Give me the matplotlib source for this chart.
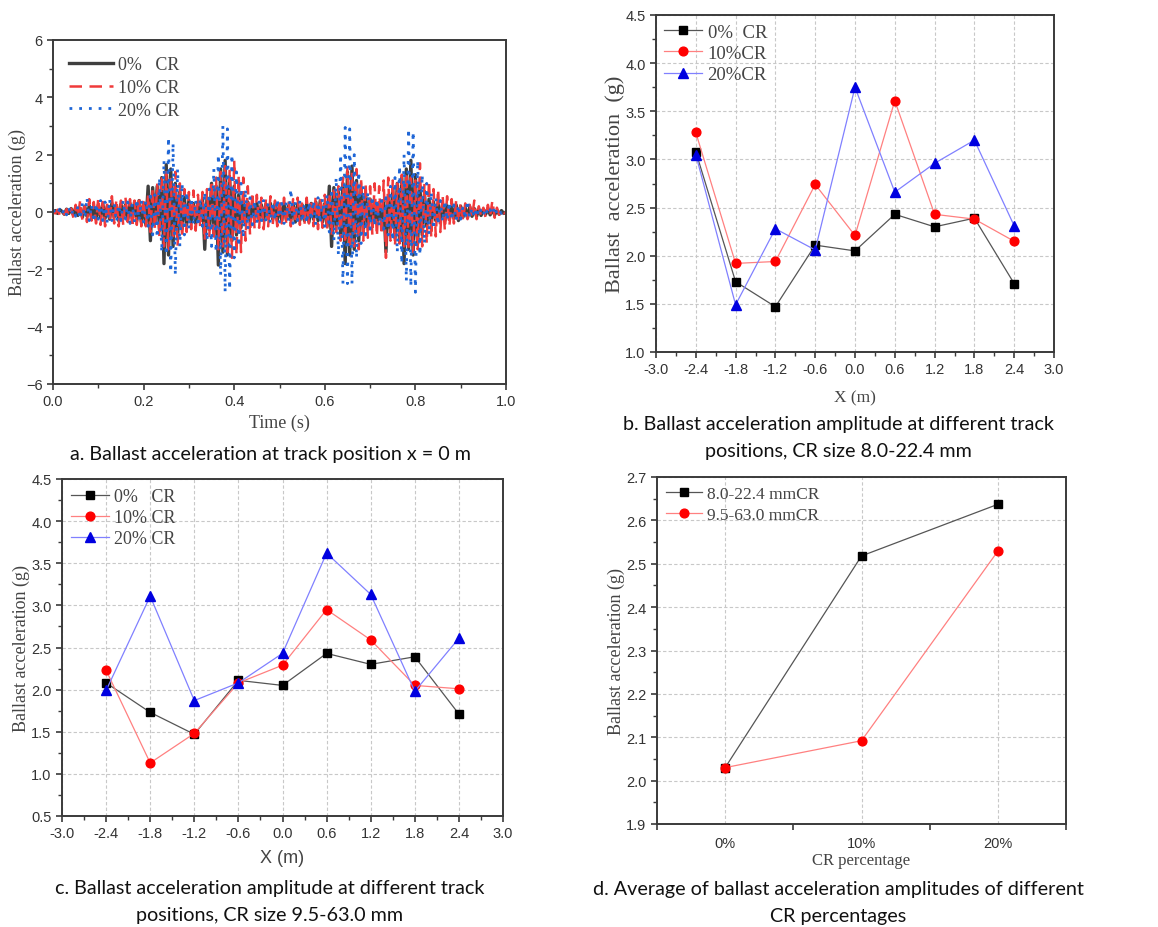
import numpy as np
import matplotlib
matplotlib.use("Agg")
import matplotlib.pyplot as plt
from matplotlib.ticker import MultipleLocator, FixedLocator, FormatStrFormatter, FuncFormatter

# ---------------- data ----------------
# (a) ballast acceleration time history at x = 0 m, sampled every 0.005 s
time_s = np.linspace(0.0, 1.0, 201)
acc_0 = [
    0.00, 0.05, -0.05, 0.08, 0.02, -0.08, 0.10, -0.05, 0.12, -0.10,
    0.15, -0.12, 0.10, -0.18, 0.20, -0.15, 0.22, -0.20, 0.18, -0.25,
    0.25, -0.20, 0.28, -0.22, 0.20, -0.25, 0.30, -0.18, 0.22, -0.30,
    0.28, -0.20, 0.25, -0.28, 0.30, -0.22, 0.35, -0.30, 0.40, -0.35,
    0.30, -0.45, 0.90, -1.00, 0.85, -0.40, 0.90, -0.60, 1.20, -1.80,
    1.65, -1.50, 1.50, -1.20, 1.00, -0.90, 0.70, -0.60, 0.50, -0.45,
    0.40, -0.35, 0.30, -0.40, 0.35, -0.30, 0.45, -1.30, 0.50, -0.60,
    1.00, -0.80, 0.90, -1.85, 1.50, -1.40, 1.80, -1.50, 1.20, -1.00,
    0.90, -0.80, 0.60, -0.55, 0.45, -0.40, 0.35, -0.30, 0.30, -0.25,
    0.30, -0.28, 0.25, -0.30, 0.28, -0.22, 0.30, -0.25, 0.28, -0.30,
    0.25, -0.30, 0.30, -0.25, 0.22, -0.28, 0.30, -0.35, 0.28, -0.30,
    0.25, -0.30, 0.28, -0.35, 0.30, -0.25, 0.35, -0.30, 0.40, -0.35,
    0.30, -0.50, 0.90, -1.20, 0.85, -0.50, 0.70, -0.80, 1.00, -1.80,
    1.40, -1.50, 1.60, -1.30, 1.10, -1.00, 0.80, -0.70, 0.60, -0.50,
    0.45, -0.40, 0.35, -0.40, 0.30, -0.35, 0.40, -1.40, 0.50, -0.60,
    0.80, -0.90, 1.00, -1.00, 1.20, -1.80, 1.50, -1.30, 1.80, -1.50,
    1.30, -1.10, 0.90, -0.80, 0.60, -0.50, 0.45, -0.40, 0.35, -0.30,
    0.30, -0.28, 0.25, -0.30, 0.22, -0.25, 0.20, -0.22, 0.25, -0.30,
    0.20, -0.18, 0.15, -0.20, 0.18, -0.15, 0.12, -0.15, 0.10, -0.12,
    0.10, -0.08, 0.12, -0.10, 0.08, -0.10, 0.06, -0.08, 0.05, -0.05, 0.00,
]
acc_10 = [
    0.00, -0.05, 0.08, -0.10, 0.05, -0.08, 0.10, -0.15, 0.12, -0.20,
    0.25, -0.15, 0.40, -0.30, 0.20, -0.35, 0.45, -0.30, 0.35, -0.40,
    0.50, -0.45, 0.35, -0.50, 0.40, -0.35, 0.55, -0.40, 0.45, -0.50,
    0.40, -0.45, 0.50, -0.35, 0.45, -0.55, 0.40, -0.45, 0.55, -0.50,
    0.45, -0.50, 0.60, -0.70, 0.80, -0.60, 1.00, -0.90, 1.30, -1.20,
    1.40, -1.30, 1.20, -1.00, 1.40, -1.20, 1.00, -0.90, 0.80, -0.70,
    0.70, -0.60, 0.75, -0.65, 0.60, -0.55, 0.70, -1.00, 0.80, -0.90,
    1.10, -1.00, 1.20, -1.30, 1.40, -1.20, 1.60, -1.40, 1.50, -1.60,
    1.80, -1.50, 1.30, -1.40, 1.20, -1.00, 0.90, -0.80, 0.70, -0.60,
    0.60, -0.55, 0.50, -0.60, 0.45, -0.50, 0.55, -0.45, 0.40, -0.50,
    0.45, -0.40, 0.50, -0.45, 0.40, -0.50, 0.45, -0.40, 0.50, -0.45,
    0.40, -0.45, 0.50, -0.40, 0.45, -0.50, 0.55, -0.60, 0.50, -0.55,
    0.60, -0.65, 0.70, -0.80, 0.75, -0.70, 0.90, -1.00, 1.20, -1.10,
    1.60, -1.30, 1.40, -1.20, 1.50, -1.30, 1.20, -1.00, 1.00, -0.90,
    0.90, -0.80, 1.00, -0.85, 0.90, -0.80, 1.10, -1.60, 1.20, -1.00,
    1.10, -1.20, 1.00, -1.10, 1.30, -1.20, 1.40, -1.30, 1.20, -1.40,
    1.10, -1.30, 1.70, -1.20, 1.00, -1.10, 1.10, -0.90, 0.80, -0.85,
    0.80, -0.70, 0.60, -0.65, 0.55, -0.50, 0.45, -0.40, 0.40, -0.35,
    0.35, -0.30, 0.30, -0.25, 0.25, -0.20, 0.40, -0.25, 0.20, -0.15,
    0.15, -0.20, 0.25, -0.15, 0.40, -0.20, 0.15, -0.10, 0.10, -0.05, 0.00,
]
acc_20 = [
    0.00, 0.08, -0.05, 0.10, -0.08, 0.12, -0.10, 0.15, -0.12, 0.10,
    -0.15, 0.20, -0.25, 0.30, -0.20, 0.50, -0.30, 0.25, -0.35, 0.30,
    -0.25, 0.40, -0.30, 0.35, -0.40, 0.45, -0.30, 0.30, -0.35, 0.25,
    -0.30, 0.40, -0.25, 0.35, -0.40, 0.30, -0.35, 0.45, -0.30, 0.40,
    -0.35, 0.40, -0.50, 0.70, -0.80, 0.60, -0.90, 1.20, -1.40, 1.80,
    -1.50, 2.60, -2.10, 2.40, -2.20, 1.50, -1.20, 1.00, -0.80, 0.70,
    -0.60, 0.50, -0.45, 0.40, -0.50, 0.45, -0.50, 0.70, -1.00, 0.80,
    -1.20, 1.50, -1.40, 2.00, -2.20, 3.00, -2.80, 2.90, -2.70, 2.00,
    -1.60, 1.40, -1.20, 1.00, -0.90, 0.80, -0.60, 0.50, -0.45, 0.40,
    -0.40, 0.35, -0.30, 0.40, -0.35, 0.30, -0.40, 0.35, -0.30, 0.45,
    -0.35, 0.30, -0.40, 0.35, -0.30, 0.80, -0.40, 0.35, -0.30, 0.40,
    -0.35, 0.30, -0.40, 0.35, -0.30, 0.40, -0.45, 0.50, -0.40, 0.45,
    -0.50, 0.60, -0.70, 0.80, -1.00, 1.20, -1.50, 2.00, -2.50, 2.95,
    -2.50, 2.90, -2.50, 2.00, -1.60, 1.40, -1.10, 0.90, -0.80, 0.70,
    -0.60, 0.55, -0.50, 0.45, -0.50, 0.40, -0.60, 0.50, -0.80, 0.90,
    -1.00, 1.20, -1.40, 1.60, -1.80, 2.00, -2.40, 2.90, -2.60, 2.80,
    -2.80, 1.80, -1.50, 1.30, -1.10, 1.00, -0.80, 0.70, -0.60, 0.50,
    -0.45, 0.40, -0.35, 0.40, -0.30, 0.35, -0.30, 0.25, -0.30, 0.25,
    -0.25, 0.20, -0.25, 0.40, -0.20, 0.15, -0.20, 0.15, -0.15, 0.10,
    -0.10, 0.15, -0.10, 0.08, -0.10, 0.20, -0.08, 0.05, -0.05, 0.03, 0.00,
]

# (b), (c) amplitude vs. track position
positions = [-2.4, -1.8, -1.2, -0.6, 0.0, 0.6, 1.2, 1.8, 2.4]
b_cr0 = [3.08, 1.73, 1.47, 2.11, 2.05, 2.43, 2.30, 2.39, 1.71]
b_cr10 = [3.28, 1.92, 1.94, 2.74, 2.21, 3.61, 2.43, 2.38, 2.15]
b_cr20 = [3.05, 1.49, 2.28, 2.06, 3.75, 2.66, 2.96, 3.20, 2.31]
c_cr0 = [2.08, 1.73, 1.47, 2.11, 2.05, 2.43, 2.30, 2.39, 1.71]
c_cr10 = [2.23, 1.13, 1.48, 2.08, 2.29, 2.95, 2.59, 2.05, 2.01]
c_cr20 = [1.99, 3.11, 1.87, 2.08, 2.43, 3.62, 3.13, 1.98, 2.61]

# (d) average amplitude vs. CR percentage
cr_labels = ["0%", "10%", "20%"]
avg_fine = [2.03, 2.518, 2.637]
avg_coarse = [2.03, 2.092, 2.529]

# ---------------- styling ----------------
W, H = 1158, 928
fig = plt.figure(figsize=(W / 100, H / 100), dpi=100)

SERIF = "Liberation Serif"
SANS = "Liberation Sans"
CAPTION = "Lato"
AX_COL = "#3a3a3a"
LABEL_COL = "#444444"
GRID = dict(color="#c8c8c8", linestyle=(0, (3, 2)), linewidth=0.8)


def make_axes(left, top, right, bottom):
    return fig.add_axes([left / W, 1 - bottom / H, (right - left) / W, (bottom - top) / H])


def style(ax, grid=True):
    for s in ax.spines.values():
        s.set_color(AX_COL)
        s.set_linewidth(1.4)
    ax.tick_params(which="major", direction="out", length=4.5, width=1.2,
                   color=AX_COL, labelsize=10.5, labelcolor="#333333", pad=3)
    ax.tick_params(which="minor", direction="out", length=3, width=1.0, color=AX_COL)
    for lab in ax.get_xticklabels() + ax.get_yticklabels():
        lab.set_fontfamily(SANS)
    if grid:
        ax.grid(True, which="major", **GRID)
        ax.set_axisbelow(True)


def caption(x, y, text):
    fig.text(x / W, 1 - y / H, text, ha="center", va="center",
             fontsize=14.2, family=CAPTION, color="#111111", linespacing=1.7)


def legend(ax, size, hlen, spacing, pad):
    ax.legend(loc="upper left", frameon=False, prop=dict(family=SERIF, size=size),
              handlelength=hlen, handletextpad=0.3, labelspacing=spacing,
              borderaxespad=pad, labelcolor=LABEL_COL)


# ---------------- (a) ----------------
ax = make_axes(53, 41, 506, 385)
ax.plot(time_s, acc_0, color="#3f3f3f", lw=2.4, label="0%   CR")
ax.plot(time_s, acc_10, color="#f03a3a", lw=1.8, ls=(0, (5, 3)), label="10% CR")
ax.plot(time_s, acc_20, color="#1f66d6", lw=2.0, ls=(0, (1, 2.5)), label="20% CR")
ax.set_xlim(0, 1.0)
ax.set_ylim(-6, 6)
ax.xaxis.set_major_locator(MultipleLocator(0.2))
ax.xaxis.set_minor_locator(MultipleLocator(0.1))
ax.yaxis.set_major_locator(MultipleLocator(2))
ax.yaxis.set_minor_locator(MultipleLocator(1))
ax.xaxis.set_major_formatter(FormatStrFormatter("%.1f"))
style(ax, grid=False)
ax.set_xlabel("Time (s)", family=SERIF, fontsize=13, color=LABEL_COL, labelpad=4)
ax.set_ylabel("Ballast acceleration (g)", family=SERIF, fontsize=13, color=LABEL_COL, labelpad=0)
legend(ax, 13, 2.4, 0.32, 0.5)
caption(270, 455, "a. Ballast acceleration at track position x = 0 m")


def position_panel(ax, s0, s10, s20, ylo, labels):
    ax.plot(positions, s0, color="#555555", lw=0.9, marker="s", ms=5.5,
            mfc="black", mec="black", label=labels[0])
    ax.plot(positions, s10, color="#ff8080", lw=0.9, marker="o", ms=6.3,
            mfc="#ff0000", mec="#ff0000", label=labels[1])
    ax.plot(positions, s20, color="#8080ff", lw=0.9, marker="^", ms=7,
            mfc="#0000e0", mec="#0000e0", label=labels[2])
    ax.set_xlim(-3.0, 3.0)
    ax.set_ylim(ylo, 4.5)
    ax.xaxis.set_major_locator(FixedLocator(np.arange(-3.0, 3.01, 0.6)))
    ax.xaxis.set_minor_locator(FixedLocator(np.arange(-2.7, 2.8, 0.6)))
    ax.yaxis.set_major_locator(MultipleLocator(0.5))
    ax.yaxis.set_minor_locator(MultipleLocator(0.25))
    ax.xaxis.set_major_formatter(FuncFormatter(
        lambda v, p: f"{v:.1f}" if abs(v) > 1e-9 else "0.0"))
    ax.yaxis.set_major_formatter(FormatStrFormatter("%.1f"))
    style(ax)


# ---------------- (b) ----------------
ax = make_axes(656, 16, 1054, 353)
position_panel(ax, b_cr0, b_cr10, b_cr20, 1.0, ["0%  CR", "10%CR", "20%CR"])
ax.set_ylabel("Ballast  acceleration  (g)", family=SERIF, fontsize=16,
              color=LABEL_COL, labelpad=0)
ax.set_xlabel("X (m)", family=SERIF, fontsize=12.5, color=LABEL_COL, labelpad=9)
legend(ax, 13.5, 2.0, 0.22, 0.05)
caption(838, 438, "b. Ballast acceleration amplitude at different track\npositions, CR size 8.0-22.4 mm")

# ---------------- (c) ----------------
ax = make_axes(62, 480, 503, 817)
position_panel(ax, c_cr0, c_cr10, c_cr20, 0.5, ["0%   CR", "10% CR", "20% CR"])
ax.set_ylabel("Ballast acceleration (g)", family=SERIF, fontsize=13,
              color=LABEL_COL, labelpad=1)
ax.set_xlabel("X (m)", family=SANS, fontsize=13, color=LABEL_COL, labelpad=6)
legend(ax, 13, 2.1, 0.22, 0.1)
caption(270, 902, "c. Ballast acceleration amplitude at different track\npositions, CR size 9.5-63.0 mm")

# ---------------- (d) ----------------
ax = make_axes(657, 478, 1066, 825)
xi = np.arange(len(cr_labels))
ax.plot(xi, avg_fine, color="#555555", lw=0.9, marker="s", ms=5.5,
        mfc="black", mec="black", label="8.0-22.4 mmCR")
ax.plot(xi, avg_coarse, color="#ff8080", lw=0.9, marker="o", ms=6.3,
        mfc="#ff0000", mec="#ff0000", label="9.5-63.0 mmCR")
ax.set_xlim(-0.5, 2.5)
ax.set_ylim(1.9, 2.7)
ax.xaxis.set_major_locator(FixedLocator(xi))
ax.xaxis.set_minor_locator(FixedLocator([-0.5, 0.5, 1.5, 2.5]))
ax.set_xticklabels(cr_labels)
ax.yaxis.set_major_locator(MultipleLocator(0.1))
ax.yaxis.set_minor_locator(MultipleLocator(0.05))
ax.yaxis.set_major_formatter(FormatStrFormatter("%.1f"))
style(ax)
ax.tick_params(axis="x", which="major", length=0, pad=9)
ax.tick_params(axis="x", which="minor", length=4.5, width=1.2)
ax.set_xlabel("CR percentage", family=SERIF, fontsize=12, color=LABEL_COL, labelpad=1)
ax.set_ylabel("Ballast acceleration (g)", family=SERIF, fontsize=13,
              color=LABEL_COL, labelpad=1)
legend(ax, 12.5, 2.1, 0.3, 0.1)
caption(838, 903, "d. Average of ballast acceleration amplitudes of different\nCR percentages")

fig.savefig("out.png", dpi=100)
